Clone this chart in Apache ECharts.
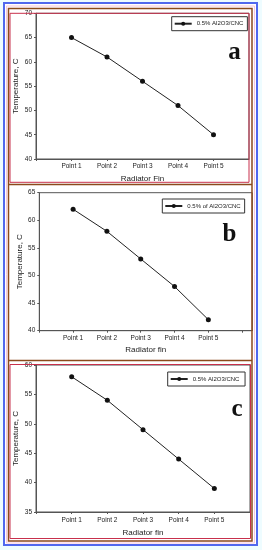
<!DOCTYPE html>
<html>
<head>
<meta charset="utf-8">
<script src="https://cdn.jsdelivr.net/npm/echarts@6/dist/echarts.min.js"></script>
<style>
html,body{margin:0;padding:0;background:#eefcff;}
#c{width:262px;height:550px;}
</style>
</head>
<body>
<div id="c"></div>
<script>
// ---- data ----
const categories = ['Point 1', 'Point 2', 'Point 3', 'Point 4', 'Point 5'];
const tempA = [65, 61, 56, 51, 45];
const tempB = [62, 58, 53, 48, 42];
const tempC = [58, 54, 49, 44, 39];
const seriesNames = ['0.5% Al2O3/CNC', '0.5% of Al2O3/CNC', '0.5% Al2O3/CNC'];
const yRangeA = [40, 70];
const yRangeB = [40, 65];
const yRangeC = [35, 60];
const yStep = 5;
const panelLetters = ['a', 'b', 'c'];
const yTitle = 'Temperature, C';
const xTitles = ['Radiator Fin', 'Radiator fin', 'Radiator fin'];

// ---- layout ----
const panels = [
  { grid: { left: 36, top: 13.3, width: 213, height: 145.7 }, xMax: 6, y: yRangeA, data: tempA,
    yGap: 16.5, xGap: 15.5, labelMargin: 3.5,
    legend: { left: 171.7, top: 16.7 }, letter: { x: 234.5, y: 53 } },
  { grid: { left: 39.3, top: 192.7, width: 213, height: 138 }, xMax: 6.3, y: yRangeB, data: tempB,
    yGap: 15.5, xGap: 15, labelMargin: 4,
    legend: { left: 162.3, top: 199 }, letter: { x: 229.5, y: 234.5 } },
  { grid: { left: 36, top: 365, width: 214, height: 147 }, xMax: 6, y: yRangeC, data: tempC,
    yGap: 16.5, xGap: 16.5, labelMargin: 4.5,
    legend: { left: 167.7, top: 372 }, letter: { x: 237, y: 409.5 } }
];

const font = 'Liberation Sans, Arial, sans-serif';
const axisColor = '#555';

const grids = [], xAxes = [], yAxes = [], series = [], legends = [], graphics = [];

// frames
graphics.push({ type: 'rect', z: -5, shape: { x: 4, y: 3, width: 253, height: 542 },
  style: { fill: '#ffffff', stroke: '#5068ee', lineWidth: 2 } });
graphics.push({ type: 'rect', z: 50, shape: { x: 6.5, y: 6, width: 248, height: 537 },
  style: { fill: null, stroke: '#f7c6dc', lineWidth: 1 } });
graphics.push({ type: 'rect', z: 50, shape: { x: 8.5, y: 8.5, width: 243.5, height: 532.5 },
  style: { fill: null, stroke: '#8b4a1c', lineWidth: 1.5 } });
graphics.push({ type: 'line', z: 50, shape: { x1: 8.5, y1: 184.5, x2: 252, y2: 184.5 },
  style: { stroke: '#8b4a1c', lineWidth: 1.5 } });
graphics.push({ type: 'line', z: 50, shape: { x1: 8.5, y1: 360.5, x2: 252, y2: 360.5 },
  style: { stroke: '#8b4a1c', lineWidth: 1.5 } });
graphics.push({ type: 'rect', z: 51, shape: { x: 10, y: 13.3, width: 239, height: 169 },
  style: { fill: null, stroke: '#c8304c', lineWidth: 1 } });
graphics.push({ type: 'rect', z: 51, shape: { x: 10, y: 364.5, width: 240.5, height: 174 },
  style: { fill: null, stroke: '#c8304c', lineWidth: 1 } });

panels.forEach((p, i) => {
  grids.push(Object.assign({ show: true, borderColor: axisColor, borderWidth: 1, backgroundColor: 'transparent' }, p.grid));
  xAxes.push({
    type: 'value', gridIndex: i, min: 0, max: p.xMax, interval: 1,
    name: xTitles[i], nameLocation: 'middle', nameGap: p.xGap, nameMoveOverlap: false,
    nameTextStyle: { fontFamily: font, fontSize: 8, color: '#222' },
    axisLine: { show: true, lineStyle: { color: axisColor, width: 1 } },
    axisTick: { show: true, length: 2, lineStyle: { color: axisColor } },
    splitLine: { show: false },
    axisLabel: {
      margin: p.labelMargin, fontFamily: font, fontSize: 6.5, color: '#222',
      showMinLabel: true, showMaxLabel: false,
      formatter: v => (Number.isInteger(v) && v >= 1 && v <= categories.length) ? categories[v - 1] : ''
    }
  });
  yAxes.push({
    type: 'value', gridIndex: i, min: p.y[0], max: p.y[1], interval: yStep,
    name: yTitle, nameLocation: 'middle', nameGap: p.yGap, nameRotate: 90, nameMoveOverlap: false,
    nameTextStyle: { fontFamily: font, fontSize: 8, color: '#222' },
    axisLine: { show: true, lineStyle: { color: axisColor, width: 1 } },
    axisTick: { show: true, length: 2, lineStyle: { color: axisColor } },
    splitLine: { show: false },
    axisLabel: { margin: 4, fontFamily: font, fontSize: 6.5, color: '#222' }
  });
  series.push({
    type: 'line', name: seriesNames[i] + (i === 2 ? ' ' : ''), xAxisIndex: i, yAxisIndex: i,
    data: p.data.map((v, k) => [k + 1, v]),
    symbol: 'circle', symbolSize: 5,
    itemStyle: { color: '#111' }, lineStyle: { color: '#222', width: 1 },
    silent: true, animation: false
  });
  legends.push({
    data: [seriesNames[i] + (i === 2 ? ' ' : '')],
    left: p.legend.left, top: p.legend.top, orient: 'horizontal',
    padding: [4, 4, 4, 2], borderColor: '#333', borderWidth: 1, borderRadius: 0,
    backgroundColor: '#fff',
    itemWidth: 17, itemHeight: 5, selectedMode: false,
    textStyle: { fontFamily: font, fontSize: 6, color: '#222' }
  });
  graphics.push({ type: 'text', z: 60, x: p.letter.x, y: p.letter.y,
    style: { text: panelLetters[i], fill: '#111', font: 'bold 25px "Liberation Serif", "DejaVu Serif", serif',
      textAlign: 'center', textVerticalAlign: 'middle' } });
});

const chart = echarts.init(document.getElementById('c'), null, { renderer: 'canvas' });
chart.setOption({
  backgroundColor: '#eefcff',
  animation: false,
  grid: grids, xAxis: xAxes, yAxis: yAxes, series: series, legend: legends,
  graphic: { elements: graphics }
});
</script>
</body>
</html>
